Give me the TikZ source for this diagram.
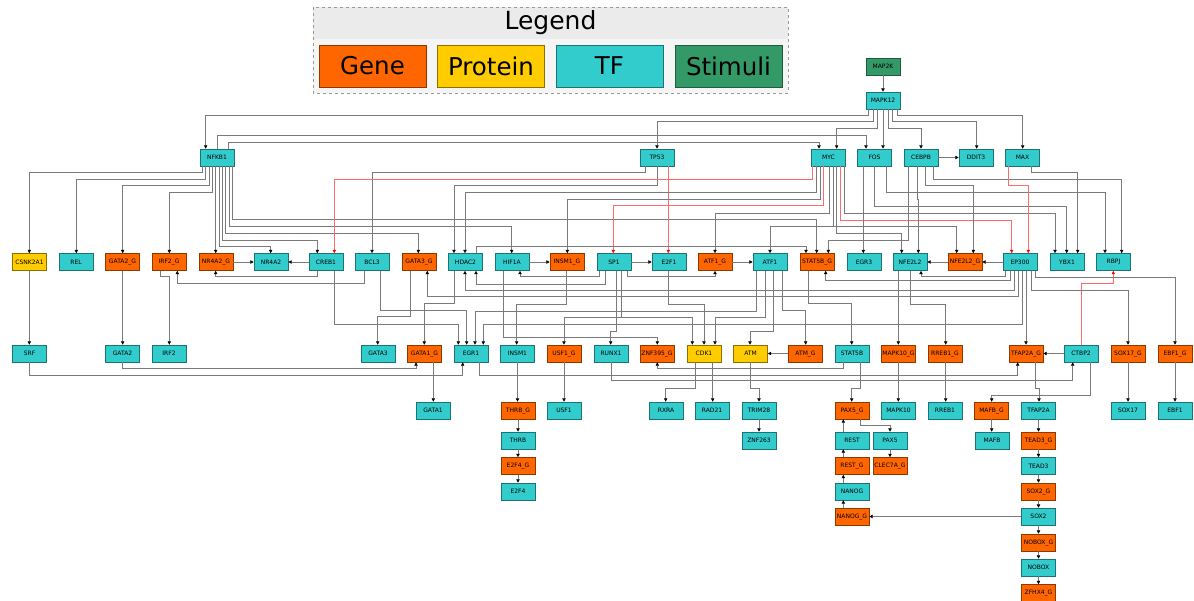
\documentclass[tikz,border=0pt]{standalone}
\usepackage{fontspec}
\setmainfont{DejaVu Sans}
\usetikzlibrary{arrows.meta}
\definecolor{genec}{HTML}{FF6600}
\definecolor{genebd}{HTML}{8A3A00}
\definecolor{protc}{HTML}{FFCC00}
\definecolor{protbd}{HTML}{8A7000}
\definecolor{tfc}{HTML}{33CCCC}
\definecolor{tfbd}{HTML}{1D7373}
\definecolor{stimc}{HTML}{339966}
\definecolor{stimbd}{HTML}{1D5C3D}
\definecolor{linec}{HTML}{7A7A7A}
\definecolor{redl}{HTML}{FF6A6A}
\definecolor{leghead}{HTML}{EBEBEB}
\definecolor{legbody}{HTML}{F5F5F5}

\tikzset{
  box/.style={rectangle, minimum width=34pt, minimum height=17pt, inner sep=0pt,
    line width=0.6pt, font=\fontsize{6}{7}\selectfont},
  gene/.style={box, fill=genec, draw=genebd},
  prot/.style={box, fill=protc, draw=protbd},
  tf/.style={box, fill=tfc, draw=tfbd},
  stim/.style={box, fill=stimc, draw=stimbd},
  legbox/.style={minimum width=107pt, minimum height=42pt, font=\fontsize{24.5}{29}\selectfont},
  edge/.style={draw=linec, line width=0.55pt, -{Triangle[length=3.4pt,width=3.4pt,color=black]}},
  redge/.style={edge, draw=redl, -{Triangle[length=3.4pt,width=3.4pt,color=red]}},
}

% bottom -> top, bottom -> bottom, top -> top, top -> bottom, straight down, straight up
\newcommand{\eBT}[6][edge]{\draw[#1] (#2.south -| #3,0) |- (#5,#4) -- (#6.north -| #5,0);}
\newcommand{\eBB}[6][edge]{\draw[#1] (#2.south -| #3,0) |- (#5,#4) -- (#6.south -| #5,0);}
\newcommand{\eTT}[6][edge]{\draw[#1] (#2.north -| #3,0) |- (#5,#4) -- (#6.north -| #5,0);}
\newcommand{\eTB}[6][edge]{\draw[#1] (#2.north -| #3,0) |- (#5,#4) -- (#6.south -| #5,0);}
\newcommand{\eV}[4][edge]{\draw[#1] (#2.south -| #3,0) -- (#4.north -| #3,0);}
\newcommand{\eVu}[4][edge]{\draw[#1] (#2.north -| #3,0) -- (#4.south -| #3,0);}

\begin{document}
\begin{tikzpicture}[x=1pt,y=-1pt]
\useasboundingbox (0,0) rectangle (1194,601);

% ---------- legend ----------
\fill[legbody] (313,7) rectangle (788,93);
\fill[leghead] (313,7) rectangle (788,39);
\draw[gray!80, dashed, line width=0.5pt] (313,7) rectangle (788,93);
\node[font=\fontsize{25}{30}\selectfont] (legtitle) at (550.5,23) {Legend};
\node[gene, legbox] (lgene) at (372.5,66) {Gene};
\node[prot, legbox] (lprot) at (491,66) {Protein};
\node[tf, legbox]   (ltf)   at (609.5,66) {TF};
\node[stim, legbox] (lstim) at (728.5,66) {Stimuli};

% ---------- nodes ----------
\node[stim] (MAP2K)  at (883,66.5) {MAP2K};
\node[tf]   (MAPK12) at (883,100.5) {MAPK12};

\node[tf] (NFKB1) at (217,157.5) {NFKB1};
\node[tf] (TP53)  at (657,157.5) {TP53};
\node[tf] (MYC)   at (828.5,157.5) {MYC};
\node[tf] (FOS)   at (874.5,157.5) {FOS};
\node[tf] (CEBPB) at (921,157.5) {CEBPB};
\node[tf] (DDIT3) at (976,157.5) {DDIT3};
\node[tf] (MAX)   at (1022.5,157.5) {MAX};

\node[prot] (CSNK2A1) at (29.5,262) {CSNK2A1};
\node[tf]   (REL)     at (76,262) {REL};
\node[gene] (GATA2G)  at (122.5,262) {GATA2\_G};
\node[gene] (IRF2G)   at (169,262) {IRF2\_G};
\node[gene] (NR4A2G)  at (216,262) {NR4A2\_G};
\node[tf]   (NR4A2)   at (271,262) {NR4A2};
\node[tf]   (CREB1)   at (326,262) {CREB1};
\node[tf]   (BCL3)    at (372,262) {BCL3};
\node[gene] (GATA3G)  at (419,262) {GATA3\_G};
\node[tf]   (HDAC2)   at (465.5,262) {HDAC2};
\node[tf]   (HIF1A)   at (512,262) {HIF1A};
\node[gene] (INSM1G)  at (567,262) {INSM1\_G};
\node[tf]   (SP1)     at (614,262) {SP1};
\node[tf]   (E2F1)    at (669,262) {E2F1};
\node[gene] (ATF1G)   at (715,262) {ATF1\_G};
\node[tf]   (ATF1)    at (770,262) {ATF1};
\node[gene] (STAT5BG) at (817,262) {STAT5B\_G};
\node[tf]   (EGR3)    at (864,262) {EGR3};
\node[tf]   (NFE2L2)  at (910,262) {NFE2L2};
\node[gene] (NFE2L2G) at (965,262) {NFE2L2\_G};
\node[tf]   (EP300)   at (1020,262) {EP300};
\node[tf]   (YBX1)    at (1067,262) {YBX1};
\node[tf]   (RBPJ)    at (1113.5,262) {RBPJ};

\node[tf]   (SRF)     at (29.5,353.5) {SRF};
\node[tf]   (GATA2)   at (122.5,353.5) {GATA2};
\node[tf]   (IRF2)    at (169,353.5) {IRF2};
\node[tf]   (GATA3)   at (378,353.5) {GATA3};
\node[gene] (GATA1G)  at (424.5,353.5) {GATA1\_G};
\node[tf]   (EGR1)    at (471,353.5) {EGR1};
\node[tf]   (INSM1)   at (517.5,353.5) {INSM1};
\node[gene] (USF1G)   at (564,353.5) {USF1\_G};
\node[tf]   (RUNX1)   at (611,353.5) {RUNX1};
\node[gene] (ZNF395G) at (657,353.5) {ZNF395\_G};
\node[prot] (CDK1)    at (704,353.5) {CDK1};
\node[prot] (ATM)     at (750.5,353.5) {ATM};
\node[gene] (ATMG)    at (805.5,353.5) {ATM\_G};
\node[tf]   (STAT5B)  at (852,353.5) {STAT5B};
\node[gene] (MAPK10G) at (898.5,353.5) {MAPK10\_G};
\node[gene] (RREB1G)  at (945,353.5) {RREB1\_G};
\node[gene] (TFAP2AG) at (1026,353.5) {TFAP2A\_G};
\node[tf]   (CTBP2)   at (1081,353.5) {CTBP2};
\node[gene] (SOX17G)  at (1128,353.5) {SOX17\_G};
\node[gene] (EBF1G)   at (1175,353.5) {EBF1\_G};

\node[tf]   (GATA1)   at (433,410.5) {GATA1};
\node[gene] (THRBG)   at (518,410.5) {THRB\_G};
\node[tf]   (USF1)    at (564,410.5) {USF1};
\node[tf]   (RXRA)    at (666,410.5) {RXRA};
\node[tf]   (RAD21)   at (712,410.5) {RAD21};
\node[tf]   (TRIM28)  at (759,410.5) {TRIM28};
\node[gene] (PAX5G)   at (852,410.5) {PAX5\_G};
\node[tf]   (MAPK10)  at (898.5,410.5) {MAPK10};
\node[tf]   (RREB1)   at (945,410.5) {RREB1};
\node[gene] (MAFBG)   at (991.5,410.5) {MAFB\_G};
\node[tf]   (TFAP2A)  at (1038.5,410.5) {TFAP2A};
\node[tf]   (SOX17)   at (1128,410.5) {SOX17};
\node[tf]   (EBF1)    at (1175,410.5) {EBF1};

\node[tf]   (THRB)    at (518,440.5) {THRB};
\node[tf]   (ZNF263)  at (759,440.5) {ZNF263};
\node[tf]   (REST)    at (852,440.5) {REST};
\node[tf]   (PAX5)    at (890,440.5) {PAX5};
\node[tf]   (MAFB)    at (992,440.5) {MAFB};
\node[gene] (TEAD3G)  at (1038.5,440.5) {TEAD3\_G};

\node[gene] (E2F4G)   at (518,466) {E2F4\_G};
\node[gene] (RESTG)   at (852,466) {REST\_G};
\node[gene] (CLEC7AG) at (890,466) {CLEC7A\_G};
\node[tf]   (TEAD3)   at (1038.5,466) {TEAD3};

\node[tf]   (E2F4)    at (518,491.5) {E2F4};
\node[tf]   (NANOG)   at (852,491.5) {NANOG};
\node[gene] (SOX2G)   at (1038.5,491.5) {SOX2\_G};

\node[gene] (NANOGG)  at (852,516.5) {NANOG\_G};
\node[tf]   (SOX2)    at (1038.5,516.5) {SOX2};
\node[gene] (NOBOXG)  at (1038.5,542.5) {NOBOX\_G};
\node[tf]   (NOBOX)   at (1038.5,567.5) {NOBOX};
\node[gene] (ZFHX4G)  at (1038.5,593) {ZFHX4\_G};

% ---------- connectors: upper levels ----------
\eV{MAP2K}{883}{MAPK12}
\eBT{MAPK12}{868.7}{115}{205.7}{NFKB1}
\eBT{MAPK12}{873.3}{121.7}{657}{TP53}
\eBT{MAPK12}{877.7}{128}{836.7}{MYC}
\eV{MAPK12}{883}{FOS}
\eBT{MAPK12}{888.3}{128}{921}{CEBPB}
\eBT{MAPK12}{892.3}{121.7}{976.7}{DDIT3}
\eBT{MAPK12}{897.7}{115.7}{1022.7}{MAX}

\eTT{NFKB1}{217.3}{135}{866}{FOS}
\eTT{NFKB1}{228.3}{142}{819}{MYC}
\eBT{NFKB1}{202.3}{172.3}{29.3}{CSNK2A1}
\eBT{NFKB1}{205.7}{179}{76.3}{REL}
\eBT{NFKB1}{209}{185.7}{122.7}{GATA2G}
\eBT{NFKB1}{212.3}{192.3}{169.3}{IRF2G}
\eV{NFKB1}{215.7}{NR4A2G}
\eBT{NFKB1}{219}{246.7}{270.7}{NR4A2}
\eBT{NFKB1}{222.3}{240}{317.3}{CREB1}
\eBT{NFKB1}{225.7}{233.3}{418.3}{GATA3G}
\eBT{NFKB1}{229}{226}{511.7}{HIF1A}
\eBT{NFKB1}{232.3}{219.3}{816.7}{STAT5BG}

\eBT{TP53}{645.7}{172.3}{372}{BCL3}
\eBT{TP53}{657.3}{185.7}{454}{HDAC2}
\eV[redge]{TP53}{668.3}{E2F1}

\eBT[redge]{MYC}{812.3}{179}{334.3}{CREB1}
\eBT{MYC}{816.7}{192.3}{465}{HDAC2}
\eBT{MYC}{820}{199}{567.3}{INSM1G}
\eBT[redge]{MYC}{823.3}{205.7}{613.3}{SP1}
\eBT{MYC}{829.3}{213.3}{715}{ATF1G}
\eBT{MYC}{833.3}{226}{770}{ATF1}
\eBT{MYC}{833.3}{226.7}{956.7}{NFE2L2G}
\eBT{MYC}{836.7}{233.3}{901.7}{NFE2L2}
\eBT[redge]{MYC}{840}{220}{1011.7}{EP300}
\eBT{MYC}{844}{213.3}{1055}{YBX1}

\draw[edge] (CEBPB) -- (DDIT3);
\eBT{CEBPB}{908.3}{240}{828.3}{STAT5BG}
\draw[edge] (CEBPB.south -| 917,0) -- (917,199) -- (918.3,199) -- (NFE2L2.north -| 918.3,0);
\eBT{CEBPB}{925.3}{185.7}{973.3}{NFE2L2G}
\eBT{CEBPB}{933.3}{179.3}{1121.7}{RBPJ}

\eV{FOS}{863.3}{EGR3}
\eBT{FOS}{874.3}{206}{1066.7}{YBX1}
\eBT{FOS}{886}{192.7}{1105}{RBPJ}

\eBT[redge]{MAX}{1008.3}{185.7}{1028.3}{EP300}
\eBT{MAX}{1031.7}{172.3}{1077.7}{YBX1}

% ---------- connectors: second level ----------
\draw[edge] (NR4A2G) -- (NR4A2);
\draw[edge] (CREB1) -- (NR4A2);
\draw[edge] (HIF1A) -- (INSM1G);
\draw[edge] (SP1) -- (E2F1);
\draw[edge] (ATF1G) -- (ATF1);
\draw[edge] (NFE2L2G) -- (NFE2L2);
\draw[edge] (EP300) -- (NFE2L2G);

\eBB{BCL3}{364}{283.3}{177.3}{IRF2G}
\eBB{CREB1}{317.3}{276.7}{215.7}{NR4A2G}
\eBB{SP1}{627.7}{276.7}{715}{ATF1G}
\eBB{SP1}{599}{276.7}{520}{HIF1A}
\eBB{SP1}{605}{284}{476}{HDAC2}
\eBB{EP300}{1014}{290}{465}{HDAC2}
\eBB{EP300}{1018.3}{296.7}{427.3}{GATA3G}
\eBB{EP300}{1010}{280}{825.7}{STAT5BG}
\eBB{EP300}{1005.7}{276.7}{921}{NFE2L2}
\eTT{HDAC2}{476}{246.7}{806}{STAT5BG}
\eTB[redge]{CTBP2}{1081.7}{283.3}{1113.3}{RBPJ}

\eV{CSNK2A1}{29.3}{SRF}
\eV{GATA2G}{122.7}{GATA2}
\draw[edge] (IRF2G.south -| 160.7,0) |- (169.3,276.7) -- (IRF2.north -| 169.3,0);
\eBT{CREB1}{334.3}{324.3}{458.3}{EGR1}
\eBT{BCL3}{380.7}{310.7}{466.7}{EGR1}
\eBT{GATA3G}{410}{316.7}{377.7}{GATA3}
\eBT{HDAC2}{454.3}{303.3}{424.3}{GATA1G}
\eBT{EP300}{1022.3}{324.3}{483.3}{EGR1}
\eBT{ATF1}{756.7}{311.7}{475}{EGR1}
\eBT{INSM1G}{566.7}{304}{516.7}{INSM1}
\eBT{HIF1A}{503.3}{337.3}{657.3}{ZNF395G}
\eBT{SP1}{621.7}{317.3}{564}{USF1G}
\eBT{SP1}{621.7}{317.3}{692.3}{CDK1}
\eBT{SP1}{616}{331.7}{610.7}{RUNX1}
\eBT{E2F1}{668.3}{304}{704}{CDK1}
\eBT{ATF1}{765}{317.3}{715}{CDK1}
\eBT{ATF1}{773.3}{331.7}{750}{ATM}
\eBT{ATF1}{782.7}{310.7}{805.7}{ATMG}
\draw[edge] (ATMG) -- (ATM);
\eBT{STAT5BG}{808.3}{303.3}{851.7}{STAT5B}
\eV{NFE2L2}{898.3}{MAPK10G}
\eBT{NFE2L2}{910}{304}{945.7}{RREB1G}
\eV{EP300}{1026}{TFAP2AG}
\eBT{EP300}{1031}{290}{1128}{SOX17G}
\eBT{EP300}{1035}{277.3}{1175}{EBF1G}
\draw[edge] (CTBP2) -- (TFAP2AG);

% ---------- connectors: third level and below ----------
\eBB{SRF}{29.3}{375}{462.7}{EGR1}
\eBB{GATA2}{122.7}{368.3}{416}{GATA1G}
\eV{GATA1G}{433.3}{GATA1}
\eBB{EGR1}{479.3}{375}{1017.7}{TFAP2AG}
\eBB{RUNX1}{611}{380}{1072.7}{CTBP2}
\eBB{STAT5B}{843.3}{368.3}{657.3}{ZNF395G}
\eV{INSM1}{517.5}{THRBG}
\eV{USF1G}{564}{USF1}
\eBT{CDK1}{695.7}{388.3}{665.7}{RXRA}
\eV{CDK1}{712.7}{RAD21}
\eBT{ATM}{750.7}{388.3}{759}{TRIM28}
\eBT{STAT5B}{860}{388.3}{851.7}{PAX5G}
\eV{MAPK10G}{898.3}{MAPK10}
\eV{RREB1G}{945.7}{RREB1}
\eBT{TFAP2AG}{1035.7}{388.3}{1039}{TFAP2A}
\eBT{CTBP2}{1090}{395}{991.7}{MAFBG}
\eV{SOX17G}{1128}{SOX17}
\eV{EBF1G}{1175}{EBF1}

\eV{THRBG}{518}{THRB}
\eV{THRB}{518}{E2F4G}
\eV{E2F4G}{518}{E2F4}
\eV{TRIM28}{759}{ZNF263}
\eBT{PAX5G}{860}{425}{890}{PAX5}
\eV{PAX5}{890}{CLEC7AG}
\eVu{REST}{843.3}{PAX5G}
\eVu{RESTG}{843.3}{REST}
\eVu{NANOG}{843.3}{RESTG}
\eVu{NANOGG}{843.3}{NANOG}
\draw[edge] (SOX2) -- (NANOGG);
\eV{MAFBG}{991.7}{MAFB}
\eV{TFAP2A}{1038.5}{TEAD3G}
\eV{TEAD3G}{1038.5}{TEAD3}
\eV{TEAD3}{1038.5}{SOX2G}
\eV{SOX2G}{1038.5}{SOX2}
\eV{SOX2}{1038.5}{NOBOXG}
\eV{NOBOXG}{1038.5}{NOBOX}
\eV{NOBOX}{1038.5}{ZFHX4G}
\end{tikzpicture}
\end{document}
